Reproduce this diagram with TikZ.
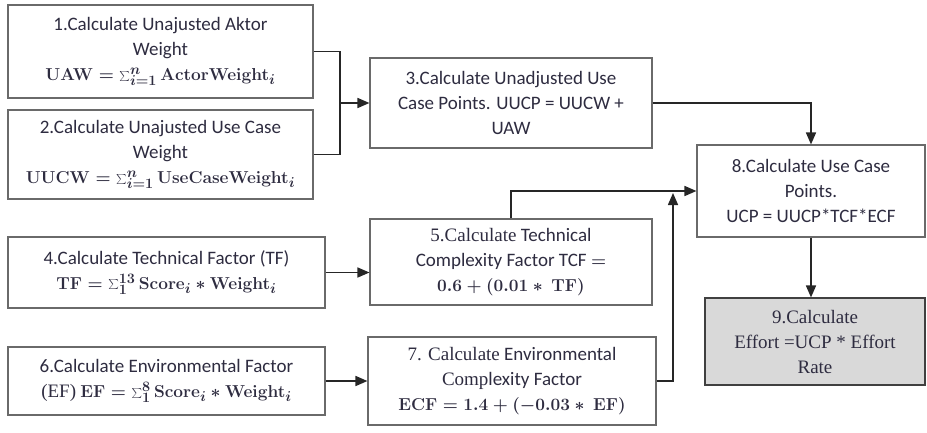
\documentclass[tikz,border=0pt]{standalone}
\usepackage{fontspec}
\setmainfont{Carlito}
\newfontfamily\timesfont{Liberation Serif}
\usetikzlibrary{arrows.meta,calc}
\definecolor{inktext}{HTML}{2E2C40}
\definecolor{boxline}{HTML}{6A6A6A}
\definecolor{effortfill}{HTML}{D9D9D9}
\newcommand{\boldfml}[1]{{\boldmath$#1$}}

\begin{document}
\begin{tikzpicture}[
  x=1pt,
  y=-1pt,
  >={Triangle[length=12pt,width=10pt]},
  font=\fontsize{19}{25}\selectfont,
  stepbox/.style={
    rectangle,
    draw=boxline,
    fill=white,
    line width=1.1pt,
    text=inktext,
    align=center,
    inner sep=2pt
  },
  resultbox/.style={
    stepbox,
    fill=effortfill,
    draw=black!75,
    font=\fontsize{19}{25}\timesfont
  },
  flow/.style={->, draw=black!85, line width=1.6pt}
]
\useasboundingbox (0,0) rectangle (927,432);

% ---------------------------------------------------------------------------
% Left column: inputs
% ---------------------------------------------------------------------------
\node[stepbox, minimum width=305pt, minimum height=93pt] (uaw) at (160.5,51.5)
  {1.Calculate Unajusted Aktor\\Weight\\
   \boldfml{\mathbf{UAW}=\sum_{i=1}^{n}\mathbf{ActorWeight}_{i}}};
\node[stepbox, minimum width=305pt, minimum height=89pt] (uucw) at (160.5,154.5)
  {2.Calculate Unajusted Use Case\\Weight\\
   \boldfml{\mathbf{UUCW}=\sum_{i=1}^{n}\mathbf{UseCaseWeight}_{i}}};
\node[stepbox, minimum width=317pt, minimum height=71pt] (tf) at (166.5,272.5)
  {4.Calculate Technical Factor (TF)\\
   \boldfml{\mathbf{TF}=\sum_{1}^{13}\mathbf{Score}_{i}*\mathbf{Weight}_{i}}};
\node[stepbox, minimum width=317pt, minimum height=68pt] (ef) at (166.5,381)
  {6.Calculate Environmental Factor\\
   {\timesfont (EF)}\ \boldfml{\mathbf{EF}=\sum_{1}^{8}\mathbf{Score}_{i}*\mathbf{Weight}_{i}}};

% ---------------------------------------------------------------------------
% Middle column: intermediate results
% ---------------------------------------------------------------------------
\node[stepbox, minimum width=282pt, minimum height=90pt] (uucp) at (511,103)
  {3.Calculate Unadjusted Use\\Case Points. UUCP = UUCW +\\UAW};
\node[stepbox, minimum width=282pt, minimum height=86pt] (tcf) at (511,262)
  {{\timesfont 5.Calculate} Technical\\Complexity Factor TCF \boldfml{=}\\
   \boldfml{\mathbf{0.6}+(\mathbf{0.01}*\ \mathbf{TF})}};
\node[stepbox, minimum width=288pt, minimum height=88pt] (ecf) at (512,381)
  {{\timesfont 7. Calculate} Environmental\\{\timesfont Comp}lexity Factor\\
   \boldfml{\mathbf{ECF}=\mathbf{1.4}+(-\mathbf{0.03}*\ \mathbf{EF})}};

% ---------------------------------------------------------------------------
% Right column: use case points and effort
% ---------------------------------------------------------------------------
\node[stepbox, minimum width=228pt, minimum height=92pt] (ucp) at (811,191)
  {8.Calculate Use Case\\Points.\\UCP = UUCP*TCF*ECF};
\node[resultbox, minimum width=220pt, minimum height=87pt] (effort) at (815,341.5)
  {9.Calculate\\Effort =UCP * Effort\\Rate};

% Connectors.
\coordinate (join12) at (340,103);
\coordinate (join78) at (673,193);
\draw[draw=black!85, line width=1.6pt] (uaw.east) -| (join12) |- (uucw.east);
\draw[flow] (join12) -- (uucp.west);
\draw[flow] (uucp.east) -| (ucp.north);
\draw[flow] (tf.east) -- (tf.east -| tcf.west);
\draw[flow] (ef.east) -- (ef.east -| ecf.west);
\draw[flow] (tcf.north) |- (ucp.west);
\draw[flow] (ecf.east) -| (join78);
\draw[flow] (ucp.south) -- (ucp.south |- effort.north);

\end{tikzpicture}
\end{document}
